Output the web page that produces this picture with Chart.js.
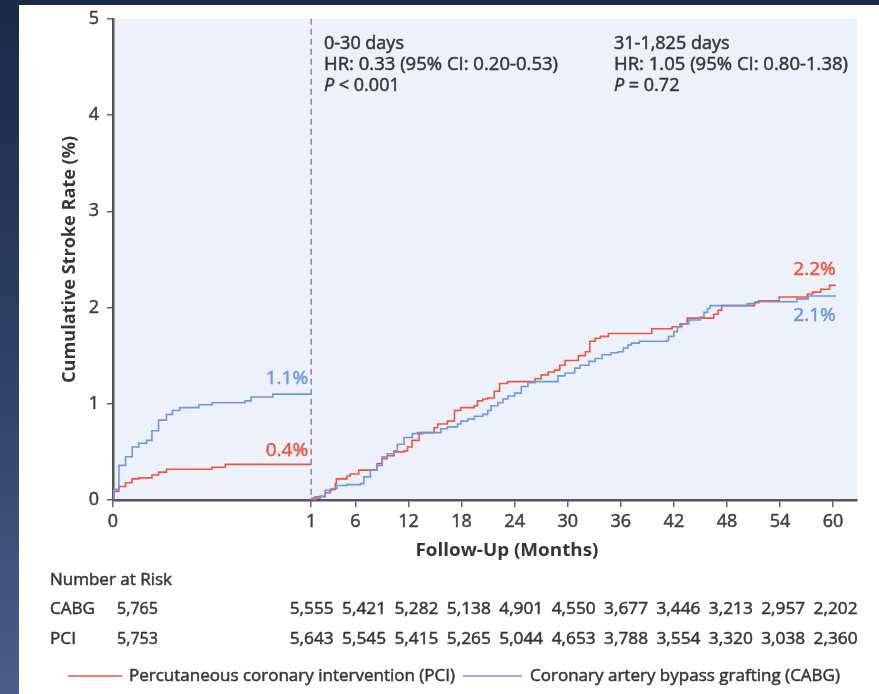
<!DOCTYPE html>
<html>
<head>
<meta charset="utf-8">
<script src="https://cdn.jsdelivr.net/npm/chart.js@4.4.1/dist/chart.umd.min.js"></script>
<style>
  html, body { margin: 0; padding: 0; width: 879px; height: 694px; overflow: hidden;
    background: linear-gradient(#1a2947, #30426a 55%, #4b5e8b); }
  #panel { position: absolute; left: 19px; top: 5px; right: 0; bottom: 0; background: #fff; }
  #c { position: absolute; left: 0; top: 0; }
</style>
</head>
<body>
<div id="panel"></div>
<canvas id="c" width="879" height="694"></canvas>
<script>
// 0-30 days (x in days), then 1-60 months
const cabgEarlyDays = [0, 0.15, 0.9, 1.9, 2.9, 3.9, 5.1, 5.9, 6.9, 8.1, 9.0, 10.1, 13.0, 15.0, 20.0, 20.9, 24.2, 30];
const cabgEarlyRate = [0, 0.11, 0.36, 0.45, 0.55, 0.59, 0.62, 0.72, 0.83, 0.89, 0.93, 0.96, 0.99, 1.01, 1.03, 1.07, 1.10, 1.10];
const pciEarlyDays = [0, 0.15, 0.9, 1.9, 2.9, 3.9, 5.9, 6.9, 8.1, 15.0, 17.0, 30];
const pciEarlyRate = [0, 0.09, 0.14, 0.18, 0.22, 0.23, 0.26, 0.29, 0.32, 0.34, 0.37, 0.37];

const cabgLateMonths = [1, 1.5, 2.02, 2.59, 3.35, 3.92, 5.05, 6.57, 6.95, 7.7, 8.46, 9.03, 9.6, 10.36, 10.74, 11.5, 12.44, 13.0,
  15.66, 16.4, 17.55, 17.93, 18.7, 19.45, 20.4, 20.96, 21.34, 22.1, 22.67, 23.24, 24.0, 24.76, 25.5, 26.3, 28.9, 29.7, 30.8,
  31.4, 32.4, 33.1, 33.9, 34.9, 35.7, 36.3, 36.8, 37.2, 38.1, 41.2, 41.4, 42.0, 42.4, 42.9, 43.7, 45.0, 45.4, 45.8, 46.1,
  50.3, 51.2, 55.9, 57.2, 60.3];
const cabgLateRate = [0, 0.02, 0.04, 0.10, 0.12, 0.15, 0.16, 0.17, 0.24, 0.31, 0.36, 0.45, 0.48, 0.51, 0.58, 0.65, 0.69, 0.70,
  0.74, 0.76, 0.79, 0.82, 0.84, 0.87, 0.89, 0.93, 0.98, 1.01, 1.05, 1.08, 1.11, 1.18, 1.22, 1.23, 1.29, 1.32, 1.37,
  1.40, 1.44, 1.47, 1.51, 1.53, 1.54, 1.58, 1.61, 1.63, 1.65, 1.66, 1.70, 1.75, 1.80, 1.83, 1.87, 1.90, 1.95, 1.99, 2.02,
  2.04, 2.06, 2.09, 2.12, 2.12];
const pciLateMonths = [1, 1.08, 1.45, 2.59, 3.16, 3.73, 3.85, 5.05, 5.43, 6.38, 8.46, 9.0, 9.6, 10.36, 11.5, 11.9, 12.4, 13.2,
  13.6, 14.9, 15.3, 16.4, 17.2, 17.9, 19.45, 19.8, 20.4, 20.96, 21.7, 22.3, 23.2, 26.3, 27.0, 27.8, 28.5, 29.1, 29.7, 31.2,
  32.0, 32.5, 33.1, 33.7, 34.6, 39.5, 41.8, 42.7, 43.5, 46.5, 47.0, 47.4, 51.1, 51.6, 53.9, 57.1, 57.7, 58.6, 59.6, 60.3];
const pciLateRate = [0, 0.017, 0.034, 0.075, 0.11, 0.17, 0.22, 0.25, 0.27, 0.31, 0.38, 0.43, 0.46, 0.50, 0.51, 0.55, 0.62, 0.69,
  0.70, 0.75, 0.79, 0.82, 0.93, 0.96, 0.98, 1.03, 1.05, 1.06, 1.13, 1.21, 1.23, 1.26, 1.30, 1.33, 1.35, 1.40, 1.45, 1.50,
  1.54, 1.65, 1.68, 1.70, 1.73, 1.78, 1.80, 1.83, 1.89, 1.93, 1.97, 2.02, 2.05, 2.07, 2.11, 2.14, 2.16, 2.19, 2.23, 2.23];

const xTickMonths = [0, 1, 6, 12, 18, 24, 30, 36, 42, 48, 54, 60];
const xTickLabels = ['0', '1', '6', '12', '18', '24', '30', '36', '42', '48', '54', '60'];
const cabgAtRisk = ['5,555', '5,421', '5,282', '5,138', '4,901', '4,550', '3,677', '3,446', '3,213', '2,957', '2,202'];
const pciAtRisk = ['5,643', '5,545', '5,415', '5,265', '5,044', '4,653', '3,788', '3,554', '3,320', '3,038', '2,360'];
const cabgStart = '5,765';
const pciStart = '5,753';

const RED = '#f0553a';
const BLUE = '#6c97e6';
const TXT = '#363636';
const FONT = "'Open Sans', sans-serif";

// first month is stretched: 30 days take 22.4 axis units, later months 1 unit each
const EARLY = 22.4;
function toAxis(m) { return m <= 1 ? m * EARLY : EARLY + (m - 1); }

function pts(xs, ys, perMonth) {
  return xs.map((x, i) => ({ x: toAxis(x / perMonth), y: ys[i] }));
}

function txt(ctx, s, x, y, o) {
  ctx.save();
  ctx.font = o.font;
  ctx.fillStyle = o.color || TXT;
  ctx.strokeStyle = o.color || TXT;
  ctx.lineWidth = 0.5;
  ctx.textBaseline = 'middle';
  ctx.textAlign = o.align || 'left';
  const w = ctx.measureText(s).width;
  ctx.translate(x, y);
  if (o.rot) ctx.rotate(o.rot);
  if (o.w) ctx.scale(o.w / w, 1);
  ctx.fillText(s, 0, 0);
  if (!o.bold) ctx.strokeText(s, 0, 0);
  ctx.restore();
  return o.w || w;
}

const decor = {
  id: 'decor',
  beforeDraw(chart) {
    const { ctx, chartArea: a } = chart;
    ctx.save();
    ctx.fillStyle = '#edf1fb';
    ctx.fillRect(a.left, a.top, a.right - a.left, a.bottom - a.top);
    ctx.restore();
  },
  beforeDatasetsDraw(chart) {
    const { ctx, chartArea: a, scales } = chart;
    const x = scales.x.getPixelForValue(toAxis(1));
    ctx.save();
    ctx.strokeStyle = '#8a8a8a';
    ctx.lineWidth = 1.5;
    ctx.setLineDash([6, 4]);
    ctx.beginPath();
    ctx.moveTo(x, a.top);
    ctx.lineTo(x, a.bottom);
    ctx.stroke();
    ctx.restore();
  },
  afterDraw(chart) {
    const { ctx, chartArea: a, scales } = chart;
    const sx = scales.x, sy = scales.y;
    const f18 = '18px ' + FONT;
    const f17 = '17px ' + FONT;

    // stats
    const stats = [
      [324, ['0-30 days', 'HR: 0.33 (95% CI: 0.20-0.53)', ' < 0.001']],
      [614, ['31-1,825 days', 'HR: 1.05 (95% CI: 0.80-1.38)', ' = 0.72']]
    ];
    stats.forEach(([x, lines]) => {
      txt(ctx, lines[0], x, 44, { font: f18 });
      txt(ctx, lines[1], x, 65, { font: f18, w: 234 });
      const pw = txt(ctx, 'P', x, 86, { font: 'italic ' + f18 });
      txt(ctx, lines[2], x + pw, 86, { font: f18 });
    });

    // end labels
    const f19 = '19px ' + FONT;
    const ex = sx.getPixelForValue(toAxis(1)) - 3;
    txt(ctx, '1.1%', ex, sy.getPixelForValue(cabgEarlyRate[cabgEarlyRate.length - 1]) - 16, { font: f19, color: BLUE, align: 'right' });
    txt(ctx, '0.4%', ex, sy.getPixelForValue(pciEarlyRate[pciEarlyRate.length - 1]) - 14, { font: f19, color: RED, align: 'right' });
    const lx = sx.getPixelForValue(toAxis(60.3));
    txt(ctx, '2.2%', lx, sy.getPixelForValue(pciLateRate[pciLateRate.length - 1]) - 16, { font: f19, color: RED, align: 'right' });
    txt(ctx, '2.1%', lx, sy.getPixelForValue(cabgLateRate[cabgLateRate.length - 1]) + 20, { font: f19, color: BLUE, align: 'right' });

    // axis titles
    txt(ctx, 'Cumulative Stroke Rate (%)', 70, (a.top + a.bottom) / 2,
      { font: 'bold 17px ' + FONT, align: 'center', rot: -Math.PI / 2, w: 247, bold: true });
    txt(ctx, 'Follow-Up (Months)', 507, 551, { font: 'bold 17px ' + FONT, align: 'center', w: 183, bold: true });

    // number at risk, columns spread evenly from month 1 to month 60
    txt(ctx, 'Number at Risk', 50, 580, { font: f17, w: 122 });
    txt(ctx, 'CABG', 50, 609, { font: f17, w: 45 });
    txt(ctx, 'PCI', 50, 639, { font: f17, w: 26 });
    txt(ctx, cabgStart, 117, 609, { font: f17, w: 41 });
    txt(ctx, pciStart, 117, 639, { font: f17, w: 41 });
    const c0 = sx.getPixelForValue(toAxis(1)) + 0.5;
    const c1 = sx.getPixelForValue(toAxis(60)) + 2.5;
    const step = (c1 - c0) / (cabgAtRisk.length - 1);
    cabgAtRisk.forEach((v, i) => {
      const x = c0 + i * step;
      txt(ctx, v, x, 609, { font: f17, align: 'center', w: 44 });
      txt(ctx, pciAtRisk[i], x, 639, { font: f17, align: 'center', w: 44 });
    });

    // legend
    ctx.save();
    ctx.lineWidth = 1.6;
    ctx.strokeStyle = RED;
    ctx.beginPath(); ctx.moveTo(68, 676); ctx.lineTo(122, 676); ctx.stroke();
    ctx.strokeStyle = BLUE;
    ctx.beginPath(); ctx.moveTo(463, 676); ctx.lineTo(522, 676); ctx.stroke();
    ctx.restore();
    txt(ctx, 'Percutaneous coronary intervention (PCI)', 129, 676, { font: f17, w: 326 });
    txt(ctx, 'Coronary artery bypass grafting (CABG)', 530, 676, { font: f17, w: 310 });
  }
};

const line = (data, color) => ({
  data, borderColor: color, borderWidth: 1.6, pointRadius: 0, stepped: true, fill: false
});

const tickFont = { family: FONT, size: 18 };

new Chart(document.getElementById('c'), {
  type: 'line',
  data: {
    datasets: [
      line(pts(cabgEarlyDays, cabgEarlyRate, 30), BLUE),
      line(pts(pciEarlyDays, pciEarlyRate, 30), RED),
      line(pts(cabgLateMonths, cabgLateRate, 1), BLUE),
      line(pts(pciLateMonths, pciLateRate, 1), RED)
    ]
  },
  options: {
    responsive: false,
    animation: false,
    events: [],
    layout: { padding: { left: 0, top: 15, right: 22, bottom: 134 } },
    plugins: { legend: { display: false }, tooltip: { enabled: false } },
    scales: {
      x: {
        type: 'linear', min: 0, max: 84.1,
        afterFit(s) { s.height = 60; },
        afterBuildTicks(s) { s.ticks = xTickMonths.map(m => ({ value: toAxis(m) })); },
        ticks: {
          autoSkip: false, maxRotation: 0, padding: 4, color: '#404040',
          textStrokeColor: '#404040', textStrokeWidth: 0.5,
          font: tickFont,
          callback: (v, i) => xTickLabels[i]
        },
        grid: { drawOnChartArea: false, drawTicks: true, tickLength: 7, color: '#666', lineWidth: 1.5 },
        border: { display: true, color: '#555', width: 2.5 }
      },
      y: {
        min: 0, max: 5,
        afterFit(s) { s.width = 113; },
        ticks: {
          stepSize: 1, padding: 8, color: '#404040',
          textStrokeColor: '#404040', textStrokeWidth: 0.5, font: tickFont
        },
        grid: { drawOnChartArea: false, drawTicks: true, tickLength: 6, color: '#666', lineWidth: 1.5 },
        border: { display: true, color: '#555', width: 2.5 }
      }
    }
  },
  plugins: [decor]
});
</script>
</body>
</html>
